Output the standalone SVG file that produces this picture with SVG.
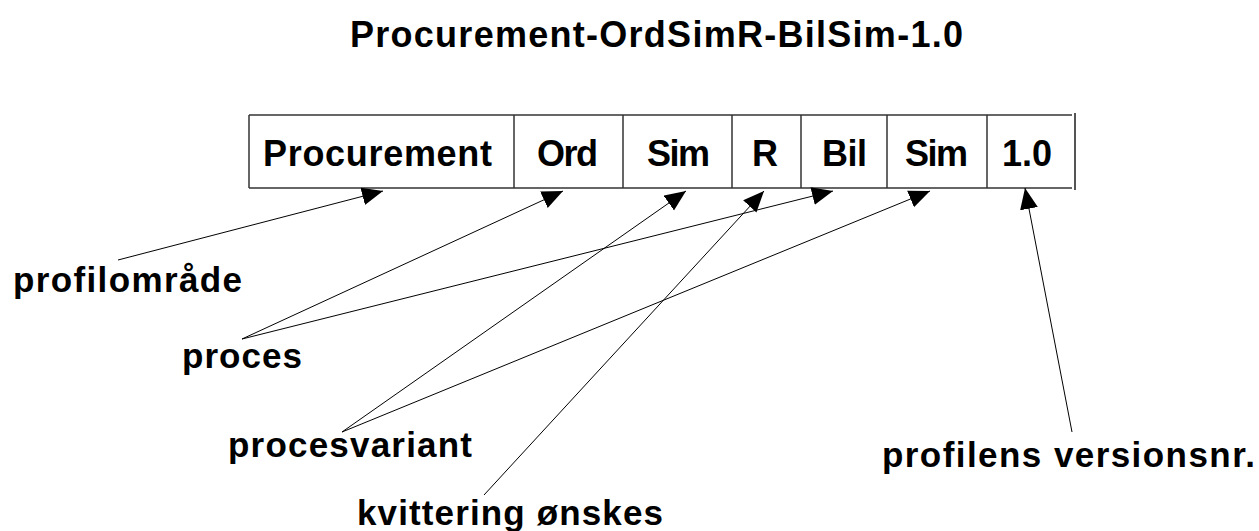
<svg xmlns="http://www.w3.org/2000/svg" width="1259" height="531" viewBox="0 0 1259 531">
  <style>
    text { font-family: "Liberation Sans", Arial, sans-serif; font-weight: bold; fill: #000; }
    .title { font-size: 36px; }
    .cell { font-size: 36px; }
    .lbl { font-size: 35px; }
    .frame { stroke: #333; stroke-width: 1.5; fill: none; }
    .conn { stroke: #000; stroke-width: 1; fill: none; marker-end: url(#arrow); }
  </style>
  <defs>
    <marker id="arrow" markerUnits="userSpaceOnUse" markerWidth="22" markerHeight="19" refX="21" refY="9" orient="auto">
      <path d="M0,0 L21,9 L0,18 Z" fill="#000"/>
    </marker>
  </defs>
  <rect width="1259" height="531" fill="#fff"/>

  <g id="title">
    <text class="title" x="350" y="47" textLength="613" lengthAdjust="spacing">Procurement-OrdSimR-BilSim-1.0</text>
  </g>

  <g id="frame">
    <line class="frame" x1="249" y1="115" x2="1072" y2="115"/>
    <line class="frame" x1="249" y1="188" x2="1072" y2="188"/>
    <line class="frame" x1="249" y1="115" x2="249" y2="188"/>
    <line x1="1075" y1="113" x2="1075" y2="190" stroke="#555" stroke-width="2"/>
  </g>

  <g id="cell-procurement">
    <text class="cell" x="263" y="166" textLength="229" lengthAdjust="spacing">Procurement</text>
  </g>
  <g id="cell-ord">
    <line class="frame" x1="514" y1="115" x2="514" y2="188"/>
    <text class="cell" x="537" y="166" textLength="61" lengthAdjust="spacing">Ord</text>
  </g>
  <g id="cell-sim1">
    <line class="frame" x1="623" y1="115" x2="623" y2="188"/>
    <text class="cell" x="647" y="166" textLength="63" lengthAdjust="spacing">Sim</text>
  </g>
  <g id="cell-r">
    <line class="frame" x1="732" y1="115" x2="732" y2="188"/>
    <text class="cell" x="752" y="166">R</text>
  </g>
  <g id="cell-bil">
    <line class="frame" x1="801" y1="115" x2="801" y2="188"/>
    <text class="cell" x="822" y="166" textLength="45" lengthAdjust="spacing">Bil</text>
  </g>
  <g id="cell-sim2">
    <line class="frame" x1="887" y1="115" x2="887" y2="188"/>
    <text class="cell" x="905" y="166" textLength="63" lengthAdjust="spacing">Sim</text>
  </g>
  <g id="cell-version">
    <line class="frame" x1="987" y1="115" x2="987" y2="188"/>
    <text class="cell" x="1002" y="166" textLength="50" lengthAdjust="spacing">1.0</text>
  </g>

  <g id="label-profilomraade">
    <text class="lbl" x="13" y="292" textLength="229" lengthAdjust="spacing">profilområde</text>
  </g>
  <g id="label-proces">
    <text class="lbl" x="182" y="368" textLength="120" lengthAdjust="spacing">proces</text>
  </g>
  <g id="label-procesvariant">
    <text class="lbl" x="228" y="457" textLength="244" lengthAdjust="spacing">procesvariant</text>
  </g>
  <g id="label-kvittering">
    <text class="lbl" x="357" y="525" textLength="306" lengthAdjust="spacing">kvittering ønskes</text>
  </g>
  <g id="label-versionsnr">
    <text class="lbl" x="882" y="467" textLength="373" lengthAdjust="spacing">profilens versionsnr.</text>
  </g>

  <g id="connectors">
    <line class="conn" x1="118" y1="260" x2="383" y2="191"/>
    <line class="conn" x1="242" y1="339" x2="563" y2="191"/>
    <line class="conn" x1="242" y1="339" x2="833" y2="191"/>
    <line class="conn" x1="342" y1="432" x2="686" y2="191"/>
    <line class="conn" x1="342" y1="432" x2="930" y2="191"/>
    <line class="conn" x1="484" y1="495" x2="764" y2="191"/>
    <line class="conn" x1="1072" y1="432" x2="1025" y2="188"/>
  </g>
</svg>
